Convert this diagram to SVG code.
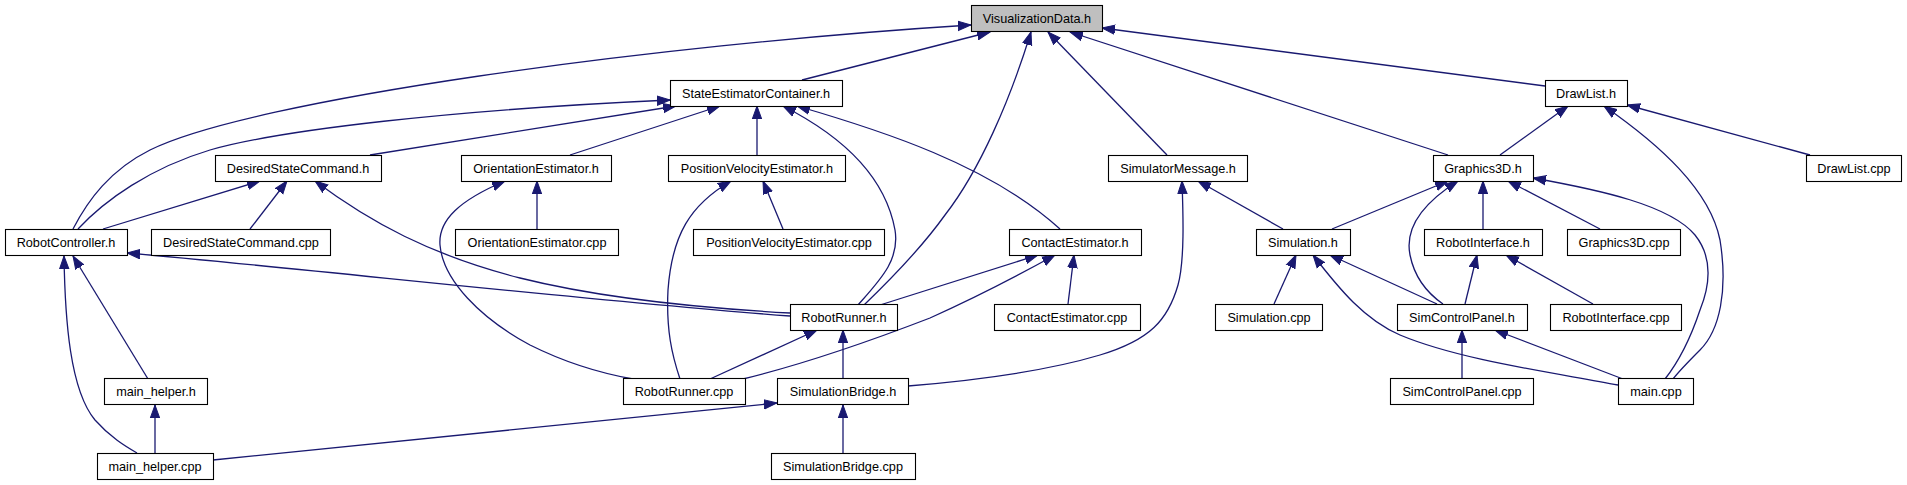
<svg xmlns="http://www.w3.org/2000/svg" width="1907" height="485" viewBox="0 0 1907 485">
<style>
.n rect{fill:#fff;stroke:#000;stroke-width:1.1}
.n.root rect{fill:#bfbfbf}
.n text{font-family:"Liberation Sans",Arial,Helvetica,sans-serif;font-size:12.7px;text-anchor:middle;fill:#000}
.e path{fill:none;stroke:#191970;stroke-width:1.3;marker-start:url(#ah)}
</style>
<defs>
<marker id="ah" markerUnits="userSpaceOnUse" markerWidth="14" markerHeight="12" refX="13" refY="5" orient="auto-start-reverse" viewBox="0 0 14 10">
<path d="M0,0.3 L13,5 L0,9.7 z" fill="#191970" stroke="#191970" stroke-width="1"/>
</marker>
</defs>
<rect width="1907" height="485" fill="#fff"/>
<g id="edges" class="e">
<path d="M971,25 C650,45 250,100 150,150 C110,170 88,200 73,229"/>
<path d="M990,32 L802,80"/>
<path d="M1031,32 C1010,100 980,170 945,215 C920,250 890,280 864,305"/>
<path d="M1048,32 L1167,155"/>
<path d="M1070,32 L1448,155"/>
<path d="M1102,28 L1545,86"/>
<path d="M670,100 C450,110 280,130 210,150 C150,168 105,200 78,229"/>
<path d="M676,106 L370,155"/>
<path d="M720,106 L570,155"/>
<path d="M757,106 L757,155"/>
<path d="M783,106 C840,135 885,175 895,230 C900,260 880,280 858,305"/>
<path d="M797,106 C880,130 990,165 1060,229"/>
<path d="M260,181 L103,229"/>
<path d="M287,181 L250,229"/>
<path d="M315,181 C370,222 430,255 520,278 C600,298 700,308 790,313"/>
<path d="M127,253 C300,268 600,302 790,316"/>
<path d="M64,256 C65,320 70,390 95,420 C110,437 125,446 137,453"/>
<path d="M73,256 L148,379"/>
<path d="M155,405 L155,454"/>
<path d="M777,403 L213,460"/>
<path d="M505,181 C460,200 438,220 440,245 C443,280 480,318 530,345 C570,365 605,374 633,379"/>
<path d="M537,181 L537,229"/>
<path d="M731,181 C690,205 672,235 668,290 C666,330 672,355 680,379"/>
<path d="M763,181 L783,229"/>
<path d="M817,330 L710,379"/>
<path d="M843,330 L843,379"/>
<path d="M843,405 L843,454"/>
<path d="M1038,255 L880,305"/>
<path d="M1055,255 C1010,280 970,300 930,318 C860,345 800,365 743,379"/>
<path d="M1074,255 L1068,304"/>
<path d="M1182,181 C1183,210 1185,260 1178,285 C1168,320 1150,340 1100,355 C1050,370 980,380 908,386"/>
<path d="M1198,181 L1283,229"/>
<path d="M1448,181 L1332,229"/>
<path d="M1458,181 C1420,205 1405,230 1410,255 C1415,280 1430,295 1443,304"/>
<path d="M1483,181 L1483,229"/>
<path d="M1508,181 L1600,229"/>
<path d="M1533,178 C1600,190 1670,205 1695,235 C1715,260 1708,290 1700,310 C1690,340 1680,360 1665,379"/>
<path d="M1568,106 L1500,155"/>
<path d="M1604,106 C1660,145 1710,190 1720,240 C1728,290 1720,330 1700,350 C1688,362 1680,370 1673,379"/>
<path d="M1627,105 L1810,155"/>
<path d="M1296,255 L1274,304"/>
<path d="M1313,255 C1340,290 1365,320 1400,335 C1460,360 1550,372 1618,385"/>
<path d="M1330,255 L1437,304"/>
<path d="M1477,255 L1465,304"/>
<path d="M1506,255 L1593,304"/>
<path d="M1462,330 L1462,379"/>
<path d="M1495,330 L1623,379"/>
</g>
<g id="VisualizationData_h" class="n root"><rect x="971.5" y="5.5" width="131" height="26"/><text x="1037" y="23">VisualizationData.h</text></g>
<g id="StateEstimatorContainer_h" class="n"><rect x="670.5" y="80.5" width="172" height="26"/><text x="756" y="98">StateEstimatorContainer.h</text></g>
<g id="DrawList_h" class="n"><rect x="1545.5" y="80.5" width="82" height="26"/><text x="1586" y="98">DrawList.h</text></g>
<g id="DesiredStateCommand_h" class="n"><rect x="215.5" y="155.5" width="166" height="26"/><text x="298" y="173">DesiredStateCommand.h</text></g>
<g id="OrientationEstimator_h" class="n"><rect x="461.5" y="155.5" width="150" height="26"/><text x="536" y="173">OrientationEstimator.h</text></g>
<g id="PositionVelocityEstimator_h" class="n"><rect x="668.5" y="155.5" width="177" height="26"/><text x="757" y="173">PositionVelocityEstimator.h</text></g>
<g id="SimulatorMessage_h" class="n"><rect x="1108.5" y="155.5" width="139" height="26"/><text x="1178" y="173">SimulatorMessage.h</text></g>
<g id="Graphics3D_h" class="n"><rect x="1433.5" y="155.5" width="100" height="26"/><text x="1483" y="173">Graphics3D.h</text></g>
<g id="DrawList_cpp" class="n"><rect x="1806.5" y="155.5" width="95" height="26"/><text x="1854" y="173">DrawList.cpp</text></g>
<g id="RobotController_h" class="n"><rect x="5.5" y="229.5" width="122" height="26"/><text x="66" y="247">RobotController.h</text></g>
<g id="DesiredStateCommand_cpp" class="n"><rect x="151.5" y="229.5" width="179" height="26"/><text x="241" y="247">DesiredStateCommand.cpp</text></g>
<g id="OrientationEstimator_cpp" class="n"><rect x="455.5" y="229.5" width="163" height="26"/><text x="537" y="247">OrientationEstimator.cpp</text></g>
<g id="PositionVelocityEstimator_cpp" class="n"><rect x="693.5" y="229.5" width="191" height="26"/><text x="789" y="247">PositionVelocityEstimator.cpp</text></g>
<g id="ContactEstimator_h" class="n"><rect x="1009.5" y="229.5" width="132" height="26"/><text x="1075" y="247">ContactEstimator.h</text></g>
<g id="Simulation_h" class="n"><rect x="1256.5" y="229.5" width="94" height="26"/><text x="1303" y="247">Simulation.h</text></g>
<g id="RobotInterface_h" class="n"><rect x="1424.5" y="229.5" width="118" height="26"/><text x="1483" y="247">RobotInterface.h</text></g>
<g id="Graphics3D_cpp" class="n"><rect x="1567.5" y="229.5" width="113" height="26"/><text x="1624" y="247">Graphics3D.cpp</text></g>
<g id="RobotRunner_h" class="n"><rect x="790.5" y="304.5" width="107" height="26"/><text x="844" y="322">RobotRunner.h</text></g>
<g id="ContactEstimator_cpp" class="n"><rect x="994.5" y="304.5" width="146" height="26"/><text x="1067" y="322">ContactEstimator.cpp</text></g>
<g id="Simulation_cpp" class="n"><rect x="1215.5" y="304.5" width="107" height="26"/><text x="1269" y="322">Simulation.cpp</text></g>
<g id="SimControlPanel_h" class="n"><rect x="1397.5" y="304.5" width="130" height="26"/><text x="1462" y="322">SimControlPanel.h</text></g>
<g id="RobotInterface_cpp" class="n"><rect x="1550.5" y="304.5" width="131" height="26"/><text x="1616" y="322">RobotInterface.cpp</text></g>
<g id="main_helper_h" class="n"><rect x="104.5" y="378.5" width="103" height="26"/><text x="156" y="396">main_helper.h</text></g>
<g id="RobotRunner_cpp" class="n"><rect x="623.5" y="378.5" width="122" height="26"/><text x="684" y="396">RobotRunner.cpp</text></g>
<g id="SimulationBridge_h" class="n"><rect x="777.5" y="378.5" width="131" height="26"/><text x="843" y="396">SimulationBridge.h</text></g>
<g id="SimControlPanel_cpp" class="n"><rect x="1390.5" y="378.5" width="143" height="26"/><text x="1462" y="396">SimControlPanel.cpp</text></g>
<g id="main_cpp" class="n"><rect x="1618.5" y="378.5" width="75" height="26"/><text x="1656" y="396">main.cpp</text></g>
<g id="main_helper_cpp" class="n"><rect x="97.5" y="453.5" width="116" height="26"/><text x="155" y="471">main_helper.cpp</text></g>
<g id="SimulationBridge_cpp" class="n"><rect x="771.5" y="453.5" width="144" height="26"/><text x="843" y="471">SimulationBridge.cpp</text></g>
</svg>
